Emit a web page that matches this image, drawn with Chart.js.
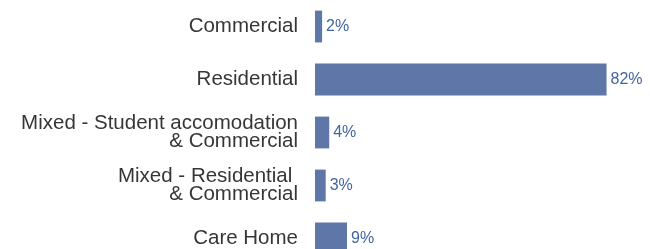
<!DOCTYPE html>
<html>
<head>
<meta charset="utf-8">
<script src="https://cdn.jsdelivr.net/npm/chart.js@4/dist/chart.umd.min.js"></script>
<style>
  html, body { margin: 0; padding: 0; background: #ffffff; overflow: hidden; }
  #wrap { position: relative; width: 650px; height: 265px; }
</style>
</head>
<body>
<div id="wrap"><canvas id="c"></canvas></div>
<script>
const categories = [
  "Commercial",
  "Residential",
  ["Mixed - Student accomodation", "& Commercial"],
  ["Mixed - Residential ", "& Commercial"],
  "Care Home"
];
const values = [2, 82, 4, 3, 9];
const valueLabels = ["2%", "82%", "4%", "3%", "9%"];

const barColor = "#5e76a8";
const valueColor = "#41659f";
const labelColor = "#363636";

const valueLabelPlugin = {
  id: "valueLabels",
  afterDatasetsDraw(chart) {
    const ctx = chart.ctx;
    const meta = chart.getDatasetMeta(0);
    ctx.save();
    ctx.font = "16px 'Liberation Sans', Arial, sans-serif";
    ctx.fillStyle = valueColor;
    ctx.textAlign = "left";
    ctx.textBaseline = "middle";
    meta.data.forEach((bar, i) => {
      ctx.fillText(valueLabels[i], bar.x + 4, bar.y + 0.5);
    });
    ctx.restore();
  }
};

new Chart(document.getElementById("c"), {
  type: "bar",
  data: {
    labels: categories,
    datasets: [{
      data: values,
      backgroundColor: barColor,
      borderWidth: 0,
      barPercentage: 0.6,
      categoryPercentage: 1.0
    }]
  },
  options: {
    indexAxis: "y",
    responsive: true,
    maintainAspectRatio: false,
    animation: false,
    layout: { padding: { left: 0, right: 15, top: 0, bottom: 0 } },
    plugins: { legend: { display: false }, tooltip: { enabled: false } },
    scales: {
      x: {
        display: false,
        min: 0,
        max: 90
      },
      y: {
        grid: { display: false, drawTicks: false },
        border: { display: false },
        ticks: {
          color: labelColor,
          padding: 17,
          autoSkip: false,
          font: { family: "'Liberation Sans', Arial, sans-serif", size: 20.5, lineHeight: 0.9 }
        },
        afterFit(scale) {
          scale.width = 315;
          scale.paddingTop = 0;
          scale.paddingBottom = 0;
        }
      }
    }
  },
  plugins: [valueLabelPlugin]
});
</script>
</body>
</html>
